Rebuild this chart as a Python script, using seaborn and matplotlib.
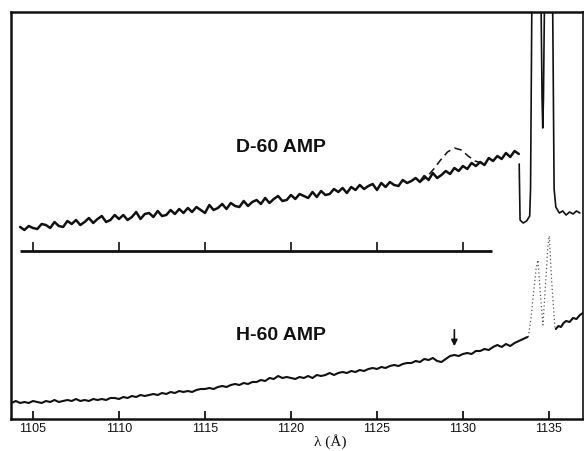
import numpy as np
import matplotlib
matplotlib.use("Agg")
import matplotlib.pyplot as plt
import matplotlib.transforms as mtransforms
import seaborn as sns

# D-60 AMP trace (heights in arbitrary units), lambda grid 1104.25 .. 1133.25 step 0.25
d60_lam = np.arange(1104.25, 1133.26, 0.25)
d60_val = [
    192, 189, 193, 191,
    190, 195, 194, 191,
    197, 193, 192, 198,
    195, 199, 194, 197,
    201, 196, 200, 203,
    197, 199, 204, 200,
    204, 199, 202, 207,
    200, 205, 206, 202,
    208, 203, 204, 209,
    205, 210, 206, 211,
    207, 212, 209, 206,
    214, 209, 211, 215,
    210, 216, 213, 212,
    218, 213, 217, 219,
    215, 221, 216, 220,
    223, 218, 219, 224,
    220, 225, 223, 221,
    227, 222, 228, 224,
    225, 230, 227, 231,
    226, 232, 229, 234,
    230, 233, 235, 229,
    236, 232, 237, 234,
    233, 239, 236, 238,
    241, 237, 243, 239,
    246, 241, 244, 248,
    245, 251, 248, 253,
    250, 256, 253, 257,
    254, 261, 258, 263,
    260, 266, 262, 268,
    265,
]
# D-60 saturated doublet region
d60_peak_lam = [1133.27, 1133.32, 1133.5, 1133.7, 1133.88, 1133.93, 1134.02, 1134.52,
                1134.6, 1134.64, 1134.68, 1134.76, 1135.2, 1135.3, 1135.4, 1135.6,
                1135.8, 1136.0, 1136.2, 1136.4, 1136.6, 1136.8]
d60_peak_val = [255, 199, 196, 198, 203, 230, 450, 450,
                320, 291, 320, 450, 450, 230, 212, 206,
                208, 204, 207, 205, 208, 206]
# dashed expected feature
bump_lam = [1127.5, 1127.9, 1128.3, 1128.7, 1129.1, 1129.5, 1129.9, 1130.3, 1130.7, 1131.1]
bump_val = [237, 242, 250, 259, 267, 271, 269, 263, 258, 256]

# H-60 AMP trace, lambda grid 1103.75 .. 1133.75 step 0.25
h60_lam = np.arange(1103.75, 1133.76, 0.25)
h60_val = [
    16,
    18, 16, 17, 16,
    18, 17, 16, 18,
    17, 19, 17, 18,
    19, 18, 20, 18,
    19, 18, 20, 19,
    20, 19, 21, 21,
    20, 22, 21, 23,
    22, 24, 23, 24,
    25, 24, 26, 25,
    27, 26, 28, 27,
    28, 27, 29, 30,
    30, 31, 30, 32,
    33, 32, 34, 35,
    34, 36, 35, 37,
    37, 39, 38, 41,
    40, 43, 41, 42,
    41, 40, 42, 41,
    43, 41, 44, 43,
    44, 46, 44, 46,
    47, 46, 48, 47,
    49, 48, 50, 51,
    50, 52, 51, 53,
    54, 53, 55, 56,
    56, 58, 57, 60,
    59, 61, 58, 57,
    60, 63, 64, 63,
    65, 66, 65, 68,
    68, 70, 69, 72,
    74, 72, 75, 73,
    76, 78, 80, 82,
]
h60_dot_lam = [1133.8, 1133.95, 1134.1, 1134.25, 1134.36, 1134.5, 1134.65, 1134.8,
               1134.95, 1135.02, 1135.15, 1135.35]
h60_dot_val = [82, 100, 125, 150, 159, 125, 94, 135, 175, 183, 140, 91]
h60_tail_lam = [1135.4, 1135.55, 1135.7, 1135.85, 1136.0, 1136.2, 1136.4, 1136.6, 1136.8, 1136.98]
h60_tail_val = [90, 93, 92, 96, 98, 97, 101, 100, 104, 106]

scale_ticks = [1105, 1110, 1115, 1120, 1125, 1130]
xticks = [1105, 1110, 1115, 1120, 1125, 1130, 1135]

sns.set_style("white")
plt.rcParams["font.family"] = ["Liberation Sans", "DejaVu Sans"]

fig = plt.figure(figsize=(5.84, 4.51), dpi=100)
ax = fig.add_axes([11 / 584, 32 / 451, 572 / 584, 407 / 451])

ink = "#111111"
sns.lineplot(x=d60_lam, y=d60_val, ax=ax, color=ink, lw=1.8, estimator=None, sort=False)
sns.lineplot(x=d60_peak_lam, y=d60_peak_val, ax=ax, color=ink, lw=1.2, estimator=None, sort=False)
sns.lineplot(x=bump_lam, y=bump_val, ax=ax, color=ink, lw=1.1, linestyle=(0, (5, 3)),
             estimator=None, sort=False)
sns.lineplot(x=h60_lam, y=h60_val, ax=ax, color=ink, lw=1.5, estimator=None, sort=False)
sns.lineplot(x=h60_dot_lam, y=h60_dot_val, ax=ax, color="#555555", lw=0.9, linestyle=(0, (1, 2)),
             estimator=None, sort=False)
sns.lineplot(x=h60_tail_lam, y=h60_tail_val, ax=ax, color=ink, lw=1.5, estimator=None, sort=False)

# internal wavelength scale bar
ax.hlines(168, 1104.25, 1131.7, color=ink, lw=2)
ax.vlines(scale_ticks, 168, 177, color=ink, lw=1.2)

ax.annotate("", xy=(1129.5, 70), xytext=(1129.5, 92),
            arrowprops=dict(arrowstyle="-|>", color=ink, lw=1.2, mutation_scale=9))

ax.text(1119.4, 271, "D-60 AMP", ha="center", va="center", fontsize=14, fontweight="bold", color=ink)
ax.text(1119.4, 84, "H-60 AMP", ha="center", va="center", fontsize=14, fontweight="bold", color=ink)

trans = mtransforms.blended_transform_factory(ax.transData, ax.transAxes)
ax.text(1122.3, -0.055, "λ (Å)", transform=trans, ha="center", va="center",
        fontsize=11, family=["Liberation Serif", "DejaVu Serif"], color=ink)

ax.set_xlim(1103.72, 1136.98)
ax.set_ylim(0, 407)
ax.set_xticks(xticks)
ax.set_xticklabels([str(t) for t in xticks])
ax.set_yticks([])
ax.tick_params(axis="x", direction="in", length=6, width=1.3, pad=3, labelsize=9, colors=ink,
               bottom=True)
ax.set_xlabel("")
ax.set_ylabel("")
for side, spine in ax.spines.items():
    spine.set_visible(True)
    spine.set_color(ink)
    spine.set_linewidth(1.8 if side != "right" else 1.2)

fig.savefig("out.png", dpi=100, facecolor="white")
